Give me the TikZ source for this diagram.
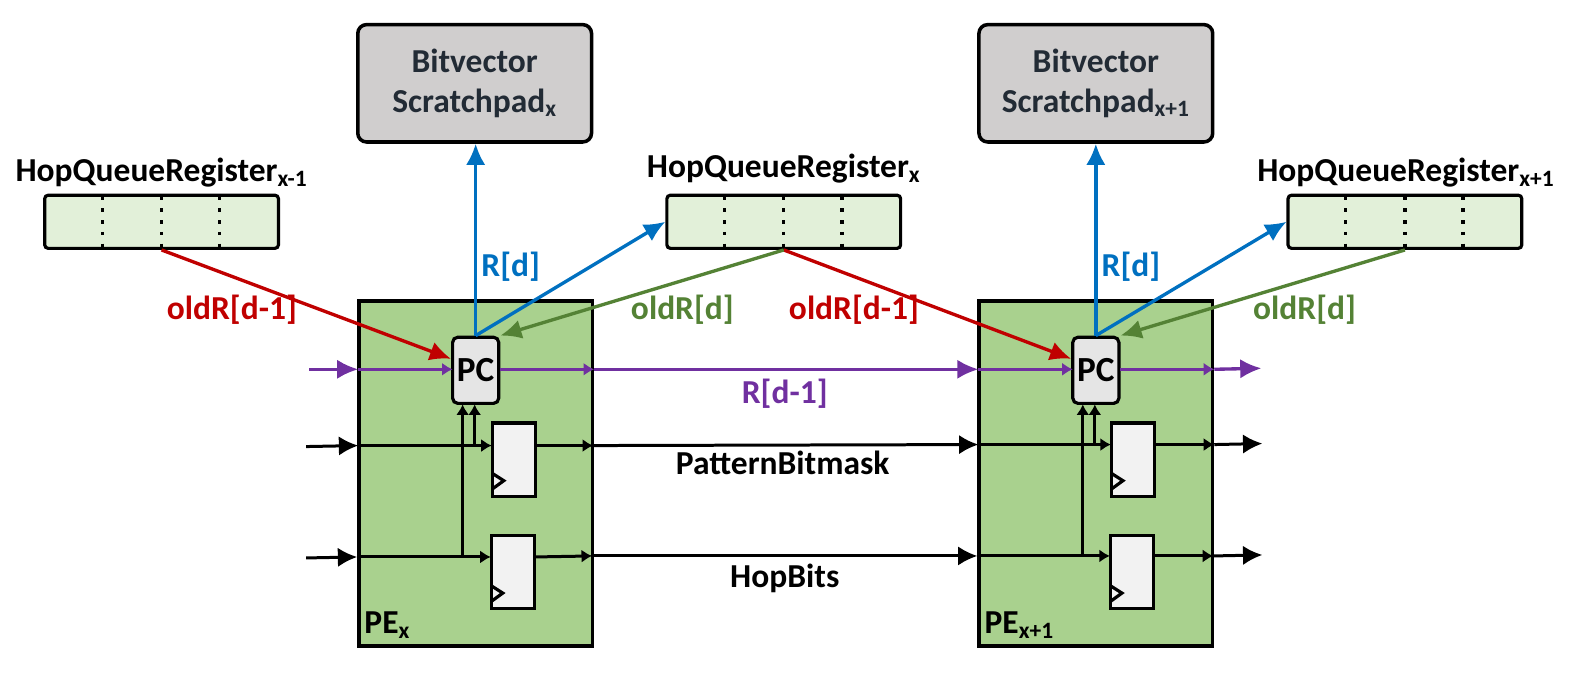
\documentclass[tikz,border=0pt]{standalone}
\usepackage{fontspec}
\setmainfont{Carlito}
\usetikzlibrary{arrows.meta}

\definecolor{pegreen}{HTML}{A9D18E}
\definecolor{hqgreen}{HTML}{E2F0D9}
\definecolor{padgray}{HTML}{D0CECE}
\definecolor{padtext}{HTML}{222B35}
\definecolor{oldred}{HTML}{C00000}
\definecolor{rblue}{HTML}{0070C0}
\definecolor{oldgreen}{HTML}{548235}
\definecolor{rpurple}{HTML}{7030A0}

\tikzset{
  pebox/.style={draw=black, line width=2pt, fill=pegreen, minimum width=4.66cm, minimum height=6.88cm},
  padbox/.style={draw=black, line width=2pt, fill=padgray, rounded corners=5pt, minimum width=4.66cm, minimum height=2.34cm, align=center, font=\fontsize{19}{22.5}\selectfont\bfseries, text=padtext},
  hqbox/.style={draw=black, line width=1.8pt, fill=hqgreen, rounded corners=2pt, minimum width=4.66cm, minimum height=1.06cm},
  pcbox/.style={draw=black, line width=1.8pt, fill=black!10, rounded corners=3pt, minimum width=0.92cm, minimum height=1.32cm, inner sep=0pt, font=\fontsize{20}{22}\selectfont\bfseries},
  regbox/.style={draw=black, line width=1.8pt, fill=black!5, minimum width=0.86cm, minimum height=1.46cm},
  lbl/.style={font=\fontsize{19}{22}\selectfont\bfseries},
  wire/.style={line width=1.7pt, -{Latex[length=6pt,width=7.5pt]}},
  bigwire/.style={line width=1.7pt, -{Latex[length=11pt,width=11pt]}},
  sigwire/.style={line width=1.9pt, -{Latex[length=12pt,width=11pt]}},
  divider/.style={line width=1.9pt, dash pattern=on 1.9pt off 4.76pt}
}

\begin{document}
\begin{tikzpicture}[x=0.02cm, y=-0.02cm]
\useasboundingbox (0,0) rectangle (1568.5,683.6);

% processing elements
\node[pebox] (pe0) at (474,472) {};
\node[pebox] (pe1) at (1092,472) {};
\node[anchor=west, lbl] (pelabel0) at (357,623) {PE\textsubscript{x}};
\node[anchor=west, lbl] (pelabel1) at (975,623) {PE\textsubscript{x+1}};

% scratchpads
\node[padbox] (pad0) at (473,83) {Bitvector\\Scratchpad\textsubscript{x}};
\node[padbox] (pad1) at (1092,83) {Bitvector\\Scratchpad\textsubscript{x+1}};

% hop queue registers
\node[hqbox] (hq0) at (161,221) {};
\node[hqbox] (hq1) at (781,221) {};
\node[hqbox] (hq2) at (1400,221) {};
\node[lbl] (hqlabel0) at (161,172) {HopQueueRegister\textsubscript{x-1}};
\node[lbl] (hqlabel1) at (781,168) {HopQueueRegister\textsubscript{x}};
\node[lbl] (hqlabel2) at (1401,172) {HopQueueRegister\textsubscript{x+1}};
\draw[divider] (102,196) -- (102,247);
\draw[divider] (161,196) -- (161,247);
\draw[divider] (219,196) -- (219,247);
\draw[divider] (722,196) -- (722,247);
\draw[divider] (781,196) -- (781,247);
\draw[divider] (839,196) -- (839,247);
\draw[divider] (1341,196) -- (1341,247);
\draw[divider] (1400,196) -- (1400,247);
\draw[divider] (1458,196) -- (1458,247);

% PC and registers
\node[pcbox] (pc0) at (474,369) {PC};
\node[pcbox] (pc1) at (1092,369) {PC};
\node[regbox] (reg0) at (512,458) {};
\node[regbox] (reg1) at (511,570) {};
\node[regbox] (reg2) at (1129,458) {};
\node[regbox] (reg3) at (1128,570) {};
\draw[line width=1.8pt] (491,472) -- (502,479) -- (491,487);
\draw[line width=1.8pt] (490,584) -- (501,591) -- (490,599);
\draw[line width=1.8pt] (1108,472) -- (1119,479) -- (1108,487);
\draw[line width=1.8pt] (1107,584) -- (1118,591) -- (1107,599);

% ports
\coordinate (r0in) at (308,368);
\coordinate (r0pe) at (357,368);
\coordinate (r0pc) at (451,368);
\coordinate (r0pcout) at (498,368);
\coordinate (r0out) at (592,368);
\coordinate (r1pe) at (975,368);
\coordinate (r1pc) at (1069,368);
\coordinate (r1pcout) at (1116,368);
\coordinate (r1out) at (1210,368);
\coordinate (r1end) at (1257,367);
\coordinate (b0in) at (305,445);
\coordinate (b0pe) at (357,444);
\coordinate (b0start) at (359,444);
\coordinate (b0reg) at (490,444);
\coordinate (b0regout) at (535,444);
\coordinate (b0out) at (591,444);
\coordinate (b1pe) at (975,443);
\coordinate (b1start) at (978,443);
\coordinate (b1reg) at (1107,443);
\coordinate (b1regout) at (1152,443);
\coordinate (b1out) at (1210,443);
\coordinate (b1end) at (1258,442);
\coordinate (h0in) at (305,556);
\coordinate (h0pe) at (356,555);
\coordinate (h0reg) at (489,555);
\coordinate (h0regout) at (534,555);
\coordinate (h0out) at (590,554);
\coordinate (h1pe) at (974,554);
\coordinate (h1reg) at (1106,554);
\coordinate (h1regout) at (1151,554);
\coordinate (h1out) at (1209,554);
\coordinate (h1end) at (1258,553);
\coordinate (tap0a) at (461,555);
\coordinate (tap0b) at (473,444);
\coordinate (tap1a) at (1079,554);
\coordinate (tap1b) at (1091,443);
\coordinate (pc0a) at (461,403);
\coordinate (pc0b) at (473,403);
\coordinate (pc1a) at (1079,403);
\coordinate (pc1b) at (1091,403);

% purple R[d-1]
\draw[sigwire, rpurple] (r0in) -- (r0pe);
\draw[wire, rpurple] (r0pe) -- (r0pc);
\draw[wire, rpurple] (r0pcout) -- (r0out);
\draw[sigwire, rpurple] (r0out) -- (r1pe);
\draw[wire, rpurple] (r1pe) -- (r1pc);
\draw[wire, rpurple] (r1pcout) -- (r1out);
\draw[sigwire, rpurple] (r1out) -- (r1end);

% pattern bitmask
\draw[bigwire] (b0in) -- (b0pe);
\draw[wire] (b0start) -- (b0reg);
\draw[wire] (b0regout) -- (b0out);
\draw[bigwire] (b0out) -- (b1pe);
\draw[wire] (b1start) -- (b1reg);
\draw[wire] (b1regout) -- (b1out);
\draw[bigwire] (b1out) -- (b1end);

% hop bits
\draw[bigwire] (h0in) -- (h0pe);
\draw[wire] (h0pe) -- (h0reg);
\draw[wire] (h0regout) -- (h0out);
\draw[bigwire] (h0out) -- (h1pe);
\draw[wire] (h1pe) -- (h1reg);
\draw[wire] (h1regout) -- (h1out);
\draw[bigwire] (h1out) -- (h1end);

% into PC from below
\draw[wire] (tap0a) -- (pc0a);
\draw[wire] (tap0b) -- (pc0b);
\draw[wire] (tap1a) -- (pc1a);
\draw[wire] (tap1b) -- (pc1b);

% blue R[d]
\draw[sigwire, rblue] (pc0.north) -- (pad0.south -| pc0.north);
\draw[sigwire, rblue] (pc1.north) -- (pad1.south -| pc1.north);
\draw[sigwire, rblue] (pc0.north) -- (hq1.west);
\draw[sigwire, rblue] (pc1.north) -- (hq2.west);

% old values
\draw[sigwire, oldred] (hq0.south) -- (pc0.155);
\draw[sigwire, oldred] (hq1.south) -- (pc1.155);
\draw[sigwire, oldgreen] (hq1.south) -- (pc0.north east);
\draw[sigwire, oldgreen] (hq2.south) -- (pc1.north east);

% signal labels
\node[lbl, text=oldred] (lblold0) at (231,309) {oldR[d-1]};
\node[lbl, text=oldred] (lblold1) at (851,309) {oldR[d-1]};
\node[lbl, text=oldgreen] (lblgr0) at (680,309) {oldR[d]};
\node[lbl, text=oldgreen] (lblgr1) at (1300,309) {oldR[d]};
\node[lbl, text=rblue] (lblr0) at (509,266) {R[d]};
\node[lbl, text=rblue] (lblr1) at (1127,266) {R[d]};
\node[lbl, text=rpurple] (lblprev) at (782,392) {R[d-1]};
\node[lbl] (lblpattern) at (780,461) {PatternBitmask};
\node[lbl] (lblhop) at (782,576) {HopBits};
\end{tikzpicture}
\end{document}
